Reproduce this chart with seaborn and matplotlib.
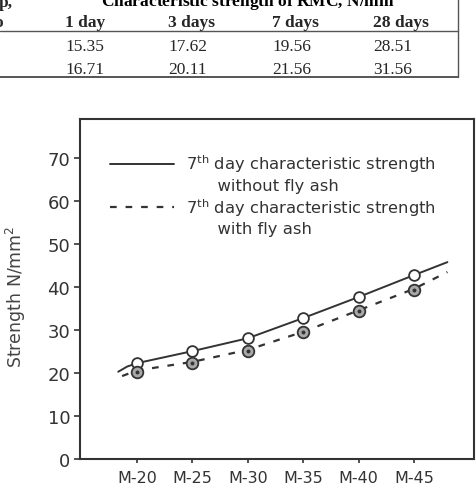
import matplotlib
matplotlib.use("Agg")
import matplotlib.pyplot as plt
import seaborn as sns
from matplotlib.lines import Line2D

# table fragment values
day_heads = ["1 day", "3 days", "7 days", "28 days"]
row_a = ["15.35", "17.62", "19.56", "28.51"]
row_b = ["16.71", "20.11", "21.56", "31.56"]

# chart values
grades = ["M-20", "M-25", "M-30", "M-35", "M-40", "M-45"]
pos = [0, 1, 2, 3, 4, 5]
without_ash = [22.3, 25.1, 28.1, 32.8, 37.7, 42.8]
with_ash = [20.2, 22.3, 25.1, 29.5, 34.4, 39.3]

# points (they run a bit past the first/last grade)
curve_x_a = [-0.34, -0.18, 0, 1, 2, 3, 4, 5, 5.6]
curve_y_a = [20.3, 21.5, 22.3, 25.1, 28.1, 32.8, 37.7, 42.8, 45.8]
curve_x_b = [-0.27, 0, 1, 2, 3, 4, 5, 5.6]
curve_y_b = [19.3, 20.6, 22.6, 25.4, 29.6, 34.6, 39.6, 43.5]

W, H = 477, 489
sns.set_style("ticks")
plt.rcParams["font.family"] = ["DejaVu Sans"]
plt.rcParams["mathtext.fontset"] = "dejavusans"

ink = "#333333"
fig = plt.figure(figsize=(W / 100, H / 100), dpi=100)

# ---- table fragment at the top (cut off in the source) ----
serif = "Liberation Serif"
def fx(x):
    return x / W
def fy(y):
    return 1 - y / H

fig.text(fx(251), fy(7), "Characteristic strength of RMC, N/mm$^2$", ha="center",
         va="baseline", family=serif, weight="bold", fontsize=12.5, color="black")
fig.text(fx(-1), fy(7), "p,", ha="left", va="baseline", family=serif,
         weight="bold", fontsize=12.5)
fig.text(fx(-6), fy(27), "o", ha="left", va="baseline", family=serif,
         weight="bold", fontsize=12.5)
col_x = [65, 168, 272, 373]
for cx, head, a, b in zip(col_x, day_heads, row_a, row_b):
    fig.text(fx(cx), fy(27), head, ha="left", va="baseline", family=serif,
             weight="bold", fontsize=12.5)
    fig.text(fx(cx), fy(51), a, ha="left", va="baseline", family=serif, fontsize=12.5)
    fig.text(fx(cx), fy(74), b, ha="left", va="baseline", family=serif, fontsize=12.5)
fig.add_artist(Line2D([0, fx(458)], [fy(32), fy(32)], transform=fig.transFigure,
                      color="#555555", lw=1.0))
fig.add_artist(Line2D([0, fx(458)], [fy(78), fy(78)], transform=fig.transFigure,
                      color="#555555", lw=1.4))
fig.add_artist(Line2D([fx(458), fx(458)], [1, fy(78)], transform=fig.transFigure,
                      color="#555555", lw=1.0))

# ---- chart ----
ax = fig.add_axes([80 / W, 29 / H, 394 / W, 340 / H])

sns.lineplot(x=curve_x_a, y=curve_y_a, ax=ax, color=ink, lw=1.4, sort=False)
sns.lineplot(x=curve_x_b, y=curve_y_b, ax=ax, color=ink, lw=1.6, sort=False)
solid_line, dash_line = ax.get_lines()[0], ax.get_lines()[1]
dash_line.set_dashes((3, 4))

sns.scatterplot(x=pos, y=without_ash, ax=ax, marker="o", s=60, color="white",
                edgecolor=ink, linewidth=1.3, zorder=5, legend=False)
sns.scatterplot(x=pos, y=with_ash, ax=ax, marker="o", s=70, color="#a8a8a8",
                edgecolor=ink, linewidth=1.3, zorder=5, legend=False)
sns.scatterplot(x=pos, y=with_ash, ax=ax, marker="o", s=8, color=ink,
                linewidth=0, zorder=6, legend=False)

ax.set_xlim(-1.03, 6.08)
ax.set_ylim(0, 79.1)
ax.set_xticks(pos)
ax.set_xticklabels(grades)
ax.set_yticks(range(0, 71, 10))
ax.tick_params(axis="x", labelsize=11.5, colors=ink, length=3, width=1.2, pad=5)
ax.tick_params(axis="y", labelsize=13, colors=ink, length=4, width=1.2, pad=3)
for s in ax.spines.values():
    s.set_visible(True)
    s.set_color(ink)
    s.set_linewidth(1.5)
ax.set_xlabel("")
ax.set_ylabel("Strength N/mm$^2$", fontsize=12.5, color="#444444")
ax.yaxis.set_label_coords(-52 / 394, (460 - 297) / 340)

blank = Line2D([], [], color="none")
leg = ax.legend(handles=[solid_line, blank, dash_line, blank],
                labels=["7$^{\\rm th}$ day characteristic strength",
                        "      without fly ash",
                        "7$^{\\rm th}$ day characteristic strength",
                        "      with fly ash"],
                loc="upper left", bbox_to_anchor=(0.055, 0.925), frameon=False,
                fontsize=11.8, handlelength=3.9, handletextpad=0.75,
                labelspacing=0.2, borderpad=0, labelcolor=ink)

fig.savefig("out.png", dpi=100)
